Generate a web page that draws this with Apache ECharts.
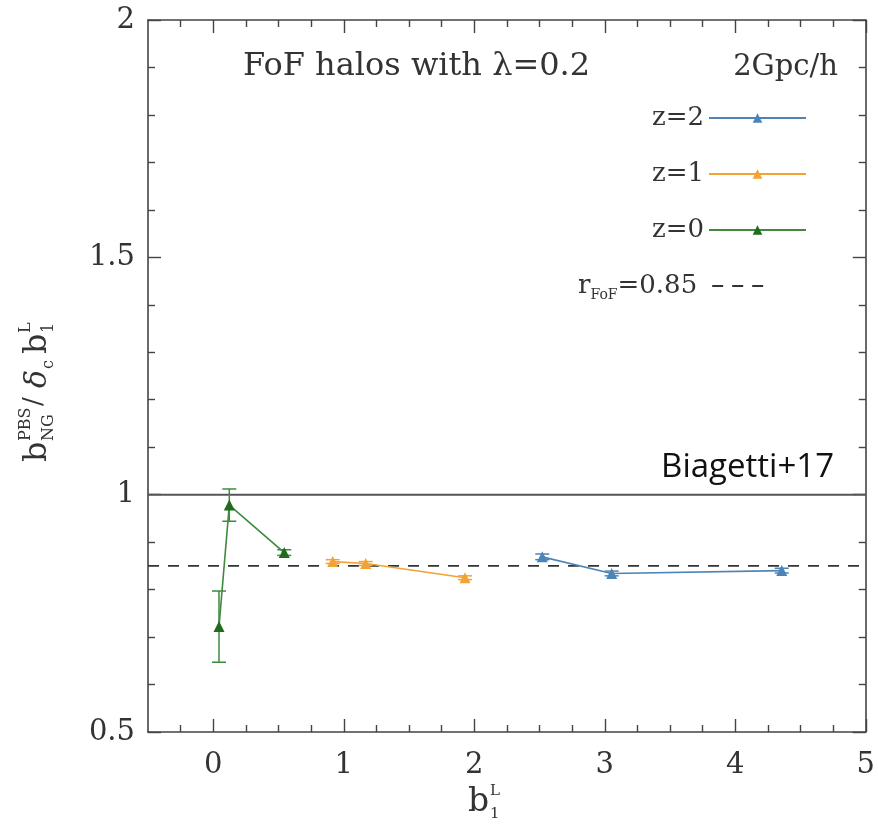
<!DOCTYPE html>
<html>
<head>
<meta charset="utf-8">
<script src="https://cdn.jsdelivr.net/npm/echarts@6/dist/echarts.min.js"></script>
<style>
  html, body { margin: 0; padding: 0; background: #fff; }
  #chart { width: 878px; height: 835px; }
</style>
</head>
<body>
<div id="chart"></div>
<script>
// Linear bias b1^L and PBS ratio b_NG / (delta_c b1^L) per redshift
const z0_b1    = [0.044, 0.123, 0.544];
const z0_ratio = [0.722, 0.978, 0.878];
const z0_err   = [0.075, 0.034, 0.006];

const z1_b1    = [0.915, 1.168, 1.929];
const z1_ratio = [0.859, 0.855, 0.825];
const z1_err   = [0.004, 0.004, 0.004];

const z2_b1    = [2.521, 3.053, 4.356];
const z2_ratio = [0.869, 0.834, 0.840];
const z2_err   = [0.006, 0.005, 0.005];

const rFoF = 0.85;      // dashed reference level
const unity = 1.0;      // solid reference level

const xRange = [-0.5, 5];
const yRange = [0.5, 2];
const xMajorTicks = [0, 1, 2, 3, 4, 5];
const xMinorTicks = [-0.25, 0.25, 0.5, 0.75, 1.25, 1.5, 1.75, 2.25, 2.5, 2.75,
                     3.25, 3.5, 3.75, 4.25, 4.5, 4.75];
const yTickLabels = [0.5, 1, 1.5, 2];

const C_BLUE = '#4d84b8';
const C_ORANGE = '#f3a234';
const C_GREEN = '#1f6b1f';
const C_GREEN_LINE = '#3f8a3f';
const AXIS = '#444';
const SERIF = '"DejaVu Serif", "Liberation Serif", serif';

const pts = (xs, ys) => xs.map((x, i) => [x, ys[i]]);
const errs = (xs, ys, es) => xs.map((x, i) => [x, ys[i], es[i]]);

function errorBarSeries(name, data, color) {
  return {
    name: name + ' err',
    type: 'custom',
    xAxisIndex: 0, yAxisIndex: 0,
    silent: true,
    z: 3,
    data: data,
    renderItem: function (params, api) {
      const x = api.value(0), y = api.value(1), e = api.value(2);
      const lo = api.coord([x, y - e]);
      const hi = api.coord([x, y + e]);
      const cap = 7;
      const st = { stroke: color, lineWidth: 1.5 };
      return {
        type: 'group',
        children: [
          { type: 'line', shape: { x1: lo[0], y1: lo[1], x2: hi[0], y2: hi[1] }, style: st },
          { type: 'line', shape: { x1: lo[0] - cap, y1: lo[1], x2: lo[0] + cap, y2: lo[1] }, style: st },
          { type: 'line', shape: { x1: hi[0] - cap, y1: hi[1], x2: hi[0] + cap, y2: hi[1] }, style: st }
        ]
      };
    }
  };
}

function lineSeries(name, data, lineColor, markColor) {
  return {
    name: name,
    type: 'line',
    xAxisIndex: 0, yAxisIndex: 0,
    data: data,
    symbol: 'triangle',
    symbolSize: 11,
    z: 4,
    lineStyle: { color: lineColor, width: 1.6 },
    itemStyle: { color: markColor },
    color: markColor
  };
}

function xAxisDef(position, ticks, len, showLine, labels) {
  return {
    type: 'value',
    position: position,
    min: xRange[0], max: xRange[1],
    axisLine: { show: showLine, onZero: false, lineStyle: { color: AXIS, width: 1.6 } },
    axisTick: { show: true, inside: true, length: len, customValues: ticks,
                lineStyle: { color: AXIS, width: 1.4 } },
    axisLabel: labels ? { show: true, customValues: ticks, margin: 19,
                          fontFamily: SERIF, fontSize: 29, color: '#333' }
                      : { show: false },
    splitLine: { show: false }
  };
}

function yAxisDef(position, labels) {
  return {
    type: 'value',
    position: position,
    min: yRange[0], max: yRange[1],
    interval: 0.5,
    axisLine: { show: true, onZero: false, lineStyle: { color: AXIS, width: 1.6 } },
    axisTick: { show: true, inside: true, length: 13, lineStyle: { color: AXIS, width: 1.4 } },
    minorTick: { show: true, splitNumber: 5, length: 7, lineStyle: { color: AXIS, width: 1.4 } },
    axisLabel: labels ? { show: true, margin: 13, fontFamily: SERIF, fontSize: 29, color: '#333',
                          formatter: v => (yTickLabels.indexOf(v) >= 0 ? String(v) : '') }
                      : { show: false },
    splitLine: { show: false },
    minorSplitLine: { show: false }
  };
}

const chart = echarts.init(document.getElementById('chart'), null, { renderer: 'canvas' });

const option = {
  animation: false,
  backgroundColor: '#fff',
  grid: { left: 148, right: 12, top: 20, bottom: 103, containLabel: false },
  xAxis: [
    xAxisDef('bottom', xMajorTicks, 13, true, true),
    xAxisDef('bottom', xMinorTicks, 7, false, false),
    xAxisDef('top', xMajorTicks, 13, true, false),
    xAxisDef('top', xMinorTicks, 7, false, false)
  ],
  yAxis: [yAxisDef('left', true), yAxisDef('right', false)],
  legend: [
    {
      data: ['z=2', 'z=1', 'z=0'],
      orient: 'vertical',
      right: 66, top: 97,
      align: 'right',
      itemWidth: 97, itemHeight: 12,
      itemGap: 24,
      selectedMode: false,
      textStyle: { fontFamily: SERIF, fontSize: 26, color: '#333', lineHeight: 32 }
    },
    {
      data: ['rFoF'],
      orient: 'vertical',
      left: 573, top: 268,
      align: 'right',
      itemWidth: 56, itemHeight: 12,
      selectedMode: false,
      itemStyle: { opacity: 0 },
      formatter: () => '{m|r}{s|FoF}{m|=0.85}',
      textStyle: {
        color: '#333', padding: [0, 10, 0, 0],
        rich: {
          m: { fontFamily: SERIF, fontSize: 26, color: '#333', lineHeight: 32 },
          s: { fontFamily: SERIF, fontSize: 14, color: '#333', lineHeight: 32, verticalAlign: 'bottom', padding: [14, 0, 0, 0] }
        }
      }
    }
  ],
  series: [
    {
      name: 'unity', type: 'line', silent: true, symbol: 'none', z: 2,
      data: [[xRange[0], unity], [xRange[1], unity]],
      lineStyle: { color: '#555', width: 2 }
    },
    {
      name: 'rFoF', type: 'line', silent: true, symbol: 'none', z: 2,
      data: [[xRange[0], rFoF], [xRange[1], rFoF]],
      color: '#333',
      lineStyle: { color: '#333', width: 1.8, type: [11, 9] }
    },
    lineSeries('z=2', pts(z2_b1, z2_ratio), C_BLUE, C_BLUE),
    lineSeries('z=1', pts(z1_b1, z1_ratio), C_ORANGE, C_ORANGE),
    lineSeries('z=0', pts(z0_b1, z0_ratio), C_GREEN_LINE, C_GREEN),
    errorBarSeries('z=2', errs(z2_b1, z2_ratio, z2_err), C_BLUE),
    errorBarSeries('z=1', errs(z1_b1, z1_ratio, z1_err), C_ORANGE),
    errorBarSeries('z=0', errs(z0_b1, z0_ratio, z0_err), C_GREEN_LINE)
  ],
  graphic: [
    { type: 'text', x: 243, y: 67,
      style: { text: 'FoF halos with \u03bb=0.2', fontFamily: SERIF, fontSize: 32, fill: '#333',
               textVerticalAlign: 'middle' } },
    { type: 'text', x: 838, y: 67,
      style: { text: '2Gpc/h', fontFamily: SERIF, fontSize: 29, fill: '#333',
               textAlign: 'right', textVerticalAlign: 'middle' } },
    { type: 'text', x: 834, y: 468,
      style: { text: 'Biagetti+17', fontFamily: '"Open Sans", Lato, sans-serif', fontSize: 33, fill: '#111',
               textAlign: 'right', textVerticalAlign: 'middle' } },
    // x-axis title: b_1^L
    { type: 'group', x: 468, y: 802, children: [
      { type: 'text', x: 0, y: 0, style: { text: 'b', fontFamily: SERIF, fontSize: 33, fill: '#333', textVerticalAlign: 'middle' } },
      { type: 'text', x: 22, y: -11, style: { text: 'L', fontFamily: SERIF, fontSize: 15, fill: '#333', textVerticalAlign: 'middle' } },
      { type: 'text', x: 22, y: 12, style: { text: '1', fontFamily: SERIF, fontSize: 15, fill: '#333', textVerticalAlign: 'middle' } }
    ] },
    // y-axis title: b_NG^PBS / delta_c b_1^L
    { type: 'group', x: 38, y: 378, rotation: Math.PI / 2, children: [
      { type: 'text', x: -84, y: 0, style: { text: 'b', fontFamily: SERIF, fontSize: 32, fill: '#333', textVerticalAlign: 'middle' } },
      { type: 'text', x: -63, y: -12, style: { text: 'PBS', fontFamily: SERIF, fontSize: 16, fill: '#333', textVerticalAlign: 'middle' } },
      { type: 'text', x: -63, y: 11, style: { text: 'NG', fontFamily: SERIF, fontSize: 16, fill: '#333', textVerticalAlign: 'middle' } },
      { type: 'text', x: -28, y: -4, style: { text: '/', fontFamily: SERIF, fontSize: 26, fill: '#333', textVerticalAlign: 'middle' } },
      { type: 'text', x: -10, y: 0, style: { text: '\u03b4', fontFamily: SERIF, fontSize: 30, fontStyle: 'italic', fill: '#333', textVerticalAlign: 'middle' } },
      { type: 'text', x: 9, y: 11, style: { text: 'c', fontFamily: SERIF, fontSize: 16, fill: '#333', textVerticalAlign: 'middle' } },
      { type: 'text', x: 24, y: 0, style: { text: 'b', fontFamily: SERIF, fontSize: 32, fill: '#333', textVerticalAlign: 'middle' } },
      { type: 'text', x: 45, y: -12, style: { text: 'L', fontFamily: SERIF, fontSize: 16, fill: '#333', textVerticalAlign: 'middle' } },
      { type: 'text', x: 45, y: 11, style: { text: '1', fontFamily: SERIF, fontSize: 16, fill: '#333', textVerticalAlign: 'middle' } }
    ] }
  ]
};

chart.setOption(option);
</script>
</body>
</html>
